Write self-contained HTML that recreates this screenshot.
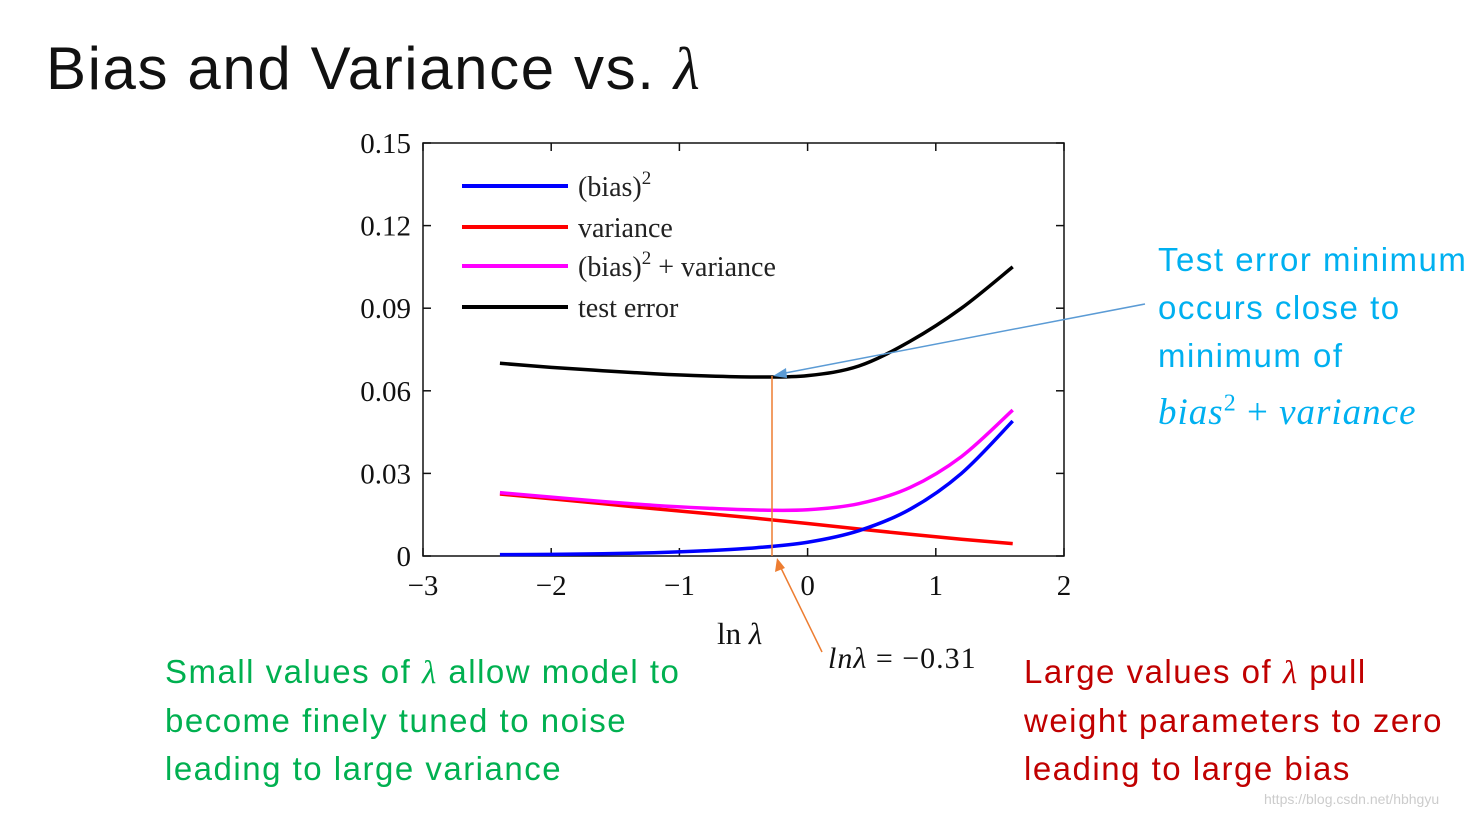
<!DOCTYPE html>
<html><head><meta charset="utf-8"><style>
body{margin:0;width:1470px;height:818px;background:#fff;overflow:hidden;position:relative;font-family:"Liberation Sans",sans-serif}
.t{position:absolute;white-space:nowrap}
.ann{font-size:33px;line-height:48px;letter-spacing:1.5px}
</style></head><body>
<div class="t" style="left:46px;top:34px;font-size:60px;color:#111;letter-spacing:1.6px">Bias and Variance vs. <span style="font-family:'Liberation Serif',serif;font-style:italic">λ</span></div>
<svg width="1470" height="818" style="position:absolute;left:0;top:0">
<g id="axes" font-family="Liberation Serif,serif" font-size="29" fill="#111"></g>
<g id="legend" font-family="Liberation Serif,serif" font-size="28" fill="#222"></g>
<g id="series"></g>
<line x1="1145" y1="304" x2="780" y2="374" stroke="#5b9bd5" stroke-width="1.5"/>
<polygon points="773,376 786,368 787,378" fill="#5b9bd5"/>
<line x1="772" y1="376" x2="772" y2="556" stroke="#ed7d31" stroke-width="1.5"/>
<line x1="822" y1="652" x2="780" y2="566" stroke="#ed7d31" stroke-width="1.5"/>
<polygon points="777,558 775,572 785,568" fill="#ed7d31"/>
<text x="717" y="644" font-family="Liberation Serif,serif" font-size="31" fill="#111">ln <tspan font-style="italic">λ</tspan></text>
<text x="828" y="668" font-family="Liberation Serif,serif" font-size="30" letter-spacing="1" fill="#111"><tspan font-style="italic">lnλ</tspan> = −0.31</text>
</svg>
<div class="t ann" style="left:1158px;top:236px;color:#00b0f0">Test error minimum<br>occurs close to<br>minimum of<br><span style="font-family:'Liberation Serif',serif;font-style:italic;font-size:37px;letter-spacing:1px">bias<sup style="font-size:24px;font-style:normal">2</sup> <span style="font-style:normal">+</span> variance</span></div>
<div class="t ann" style="left:165px;top:648px;color:#00b050">Small values of <span style="font-family:'Liberation Serif',serif;font-style:italic">λ</span> allow model to<br>become finely tuned to noise<br>leading to large variance</div>
<div class="t ann" style="left:1024px;top:648px;color:#c00000">Large values of <span style="font-family:'Liberation Serif',serif;font-style:italic">λ</span> pull<br>weight parameters to zero<br>leading to large bias</div>
<div class="t" style="left:1264px;top:791px;font-size:14px;color:#ccc">https://blog.csdn.net/hbhgyu</div>
<script>
const xs=[-2.4,-2.0,-1.6,-1.2,-0.8,-0.4,0,0.4,0.8,1.2,1.6];
const testErr=[0.070,0.0685,0.0673,0.0662,0.0654,0.0650,0.0655,0.0690,0.0780,0.0900,0.105];
const bias2=[0.0005,0.0006,0.0008,0.0012,0.0019,0.0030,0.0050,0.0092,0.0170,0.0300,0.0490];
const variance=[0.0225,0.0208,0.0190,0.0172,0.0155,0.0137,0.0118,0.0098,0.0079,0.0061,0.0045];
const sumBV=[0.0230,0.0214,0.0198,0.0184,0.0174,0.0167,0.0168,0.0190,0.0249,0.0361,0.0530];
const xTicks=[-3,-2,-1,0,1,2];
const yTicks=[0,0.03,0.06,0.09,0.12,0.15];
const yTickLabels=["0","0.03","0.06","0.09","0.12","0.15"];
const NS="http://www.w3.org/2000/svg";
const L=423,R=1064,T=143,B=556;
const sx=v=>L+(v+3)/5*(R-L), sy=v=>B-v/0.15*(B-T);
function mk(tag,attrs,parent){const e=document.createElementNS(NS,tag);for(const k in attrs)e.setAttribute(k,attrs[k]);parent.appendChild(e);return e;}
const ax=document.getElementById('axes');
const fr=mk('rect',{x:L,y:T,width:R-L,height:B-T,fill:'none',stroke:'#111','stroke-width':1.5},ax);


xTicks.forEach(v=>{const x=sx(v);
 mk('line',{x1:x,y1:B,x2:x,y2:B-8,stroke:'#111','stroke-width':1.5},ax);
 mk('line',{x1:x,y1:T,x2:x,y2:T+8,stroke:'#111','stroke-width':1.5},ax);
 const t=mk('text',{x:x,y:B+39,'text-anchor':'middle'},ax);t.textContent=(v<0?'−':'')+Math.abs(v);
 
 });
yTicks.forEach((v,i)=>{const y=sy(v);
 mk('line',{x1:L,y1:y,x2:L+8,y2:y,stroke:'#111','stroke-width':1.5},ax);
 mk('line',{x1:R,y1:y,x2:R-8,y2:y,stroke:'#111','stroke-width':1.5},ax);
 const t=mk('text',{x:L-12,y:y+10,'text-anchor':'end'},ax);t.textContent=yTickLabels[i];
 
 });
function path(vals){const p=xs.map((x,i)=>[sx(x),sy(vals[i])]);let d=`M${p[0][0]},${p[0][1]}`;
 for(let i=0;i<p.length-1;i++){const p0=p[Math.max(0,i-1)],p1=p[i],p2=p[i+1],p3=p[Math.min(p.length-1,i+2)];
 d+=` C${p1[0]+(p2[0]-p0[0])/6},${p1[1]+(p2[1]-p0[1])/6} ${p2[0]-(p3[0]-p1[0])/6},${p2[1]-(p3[1]-p1[1])/6} ${p2[0]},${p2[1]}`;}return d;}
const sg=document.getElementById('series');
[[variance,'#ff0000','variance-line'],[sumBV,'#ff00ff','bias-plus-variance-line'],[bias2,'#0000ff','bias-squared-line'],[testErr,'#000','test-error-line']].forEach(s=>{
 const e=mk('path',{d:path(s[0]),fill:'none',stroke:s[1],'stroke-width':3.5},sg);
 
 });
const lg=document.getElementById('legend');
const items=[['#0000ff','(bias)','²',''],['#ff0000','variance','',''],['#ff00ff','(bias)','²',' + variance'],['#000','test error','','']];
const ly=[186,227,266,307];
items.forEach((it,i)=>{
 const l=mk('line',{x1:462,x2:568,y1:ly[i],y2:ly[i],stroke:it[0],'stroke-width':4},lg);
 
 
 const t=mk('text',{x:578,y:ly[i]+10},lg);
 
 
 t.textContent=it[1];
 if(it[2]){const s=mk('tspan',{dy:-12,'font-size':19},t);s.textContent='2';const r=mk('tspan',{dy:12},t);r.textContent=it[3];}
});
</script>
</body></html>
